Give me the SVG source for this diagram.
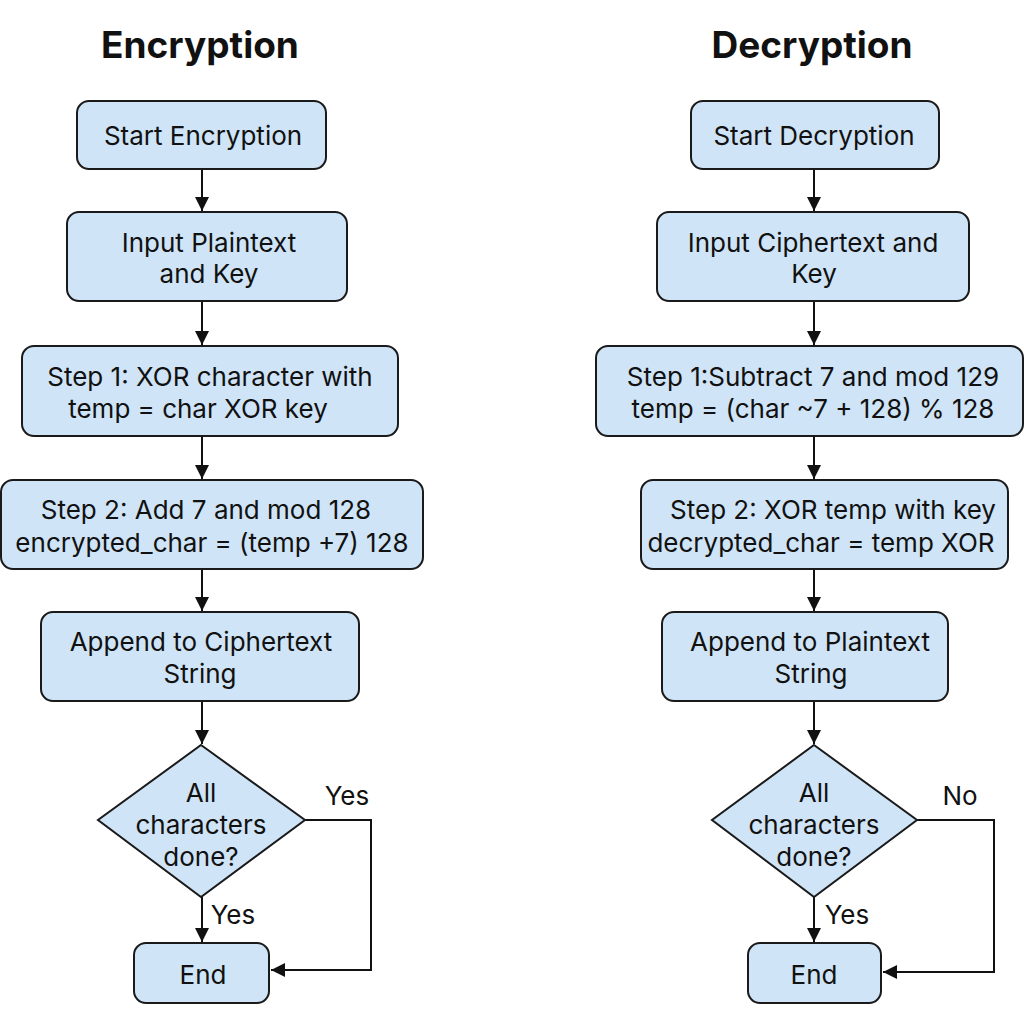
<svg xmlns="http://www.w3.org/2000/svg" width="1024" height="1024" viewBox="0 0 1024 1024">
<defs>
<style>
.box{fill:#cfe4f7;stroke:#1a1a1a;stroke-width:2}
.t{font-family:Inter,"Noto Sans","Liberation Sans",sans-serif;font-size:26px;fill:#111;text-anchor:middle}
.title{font-family:Inter,"Noto Sans","Liberation Sans",sans-serif;font-size:37px;font-weight:bold;fill:#111;text-anchor:middle}
.c{fill:none;stroke:#111;stroke-width:2}
</style>
<marker id="ahb" viewBox="0 0 10 10" refX="10" refY="5" markerWidth="14" markerHeight="14" markerUnits="userSpaceOnUse" orient="auto">
<path d="M0,0 L10,5 L0,10 z" fill="#111"/>
</marker>
</defs>
<rect width="1024" height="1024" fill="#fff"/>
<text class="title" x="200" y="58">Encryption</text>
<text class="title" x="812" y="58">Decryption</text>
<g id="connectors">
<line class="c" x1="202" y1="169" x2="202" y2="211" marker-end="url(#ahb)"/>
<line class="c" x1="202" y1="301" x2="202" y2="345" marker-end="url(#ahb)"/>
<line class="c" x1="202" y1="436" x2="202" y2="479" marker-end="url(#ahb)"/>
<line class="c" x1="202" y1="569" x2="202" y2="611" marker-end="url(#ahb)"/>
<line class="c" x1="202" y1="701" x2="202" y2="744" marker-end="url(#ahb)"/>
<line class="c" x1="202" y1="897" x2="202" y2="942" marker-end="url(#ahb)"/>
<polyline class="c" points="305,820 371,820 371,970 271,970" marker-end="url(#ahb)"/>
<line class="c" x1="814" y1="169" x2="814" y2="211" marker-end="url(#ahb)"/>
<line class="c" x1="814" y1="301" x2="814" y2="345" marker-end="url(#ahb)"/>
<line class="c" x1="814" y1="436" x2="814" y2="479" marker-end="url(#ahb)"/>
<line class="c" x1="814" y1="569" x2="814" y2="611" marker-end="url(#ahb)"/>
<line class="c" x1="814" y1="701" x2="814" y2="744" marker-end="url(#ahb)"/>
<line class="c" x1="814" y1="897" x2="814" y2="942" marker-end="url(#ahb)"/>
<polyline class="c" points="917,820 994,820 994,972 883,972" marker-end="url(#ahb)"/>
<text class="t" x="347" y="805">Yes</text>
<text class="t" x="233" y="924">Yes</text>
<text class="t" x="960" y="805">No</text>
<text class="t" x="847" y="924">Yes</text>
</g>
<g id="enc-start"><rect class="box" x="77" y="101" width="249" height="68" rx="12"/><text class="t" x="203" y="145">Start Encryption</text></g>
<g id="enc-input"><rect class="box" x="67" y="212" width="280" height="89" rx="12"/><text class="t" x="209" y="252">Input Plaintext</text><text class="t" x="209" y="283">and Key</text></g>
<g id="enc-step1"><rect class="box" x="22" y="346" width="376" height="90" rx="12"/><text class="t" x="210" y="386">Step 1: XOR character with</text><text class="t" x="198" y="418">temp = char XOR key</text></g>
<g id="enc-step2"><rect class="box" x="1" y="480" width="422" height="89" rx="12"/><text class="t" x="206" y="519">Step 2: Add 7 and mod 128</text><text class="t" x="212" y="552">encrypted_char = (temp +7) 128</text></g>
<g id="enc-append"><rect class="box" x="41" y="612" width="318" height="89" rx="12"/><text class="t" x="201" y="651">Append to Ciphertext</text><text class="t" x="200" y="683">String</text></g>
<g id="enc-decision"><polygon class="box" points="201,745 305,820 201,897 98,820"/><text class="t" x="201" y="802">All</text><text class="t" x="201" y="834">characters</text><text class="t" x="201" y="866">done?</text></g>
<g id="enc-end"><rect class="box" x="134" y="943" width="135" height="60" rx="12"/><text class="t" x="203" y="984">End</text></g>
<g id="dec-start"><rect class="box" x="691" y="101" width="248" height="68" rx="12"/><text class="t" x="814" y="145">Start Decryption</text></g>
<g id="dec-input"><rect class="box" x="657" y="212" width="312" height="89" rx="12"/><text class="t" x="813" y="252">Input Ciphertext and</text><text class="t" x="814" y="283">Key</text></g>
<g id="dec-step1"><rect class="box" x="596" y="346" width="427" height="90" rx="12"/><text class="t" x="813" y="386">Step 1:Subtract 7 and mod 129</text><text class="t" x="813" y="418">temp = (char ~7 + 128) % 128</text></g>
<g id="dec-step2"><rect class="box" x="641" y="480" width="367" height="89" rx="12"/><text class="t" x="833" y="519">Step 2: XOR temp with key</text><text class="t" x="821" y="552">decrypted_char = temp XOR</text></g>
<g id="dec-append"><rect class="box" x="662" y="612" width="286" height="89" rx="12"/><text class="t" x="810" y="651">Append to Plaintext</text><text class="t" x="811" y="683">String</text></g>
<g id="dec-decision"><polygon class="box" points="814,745 917,820 814,897 712,820"/><text class="t" x="814" y="802">All</text><text class="t" x="814" y="834">characters</text><text class="t" x="814" y="866">done?</text></g>
<g id="dec-end"><rect class="box" x="748" y="943" width="133" height="60" rx="12"/><text class="t" x="814" y="984">End</text></g>
</svg>
